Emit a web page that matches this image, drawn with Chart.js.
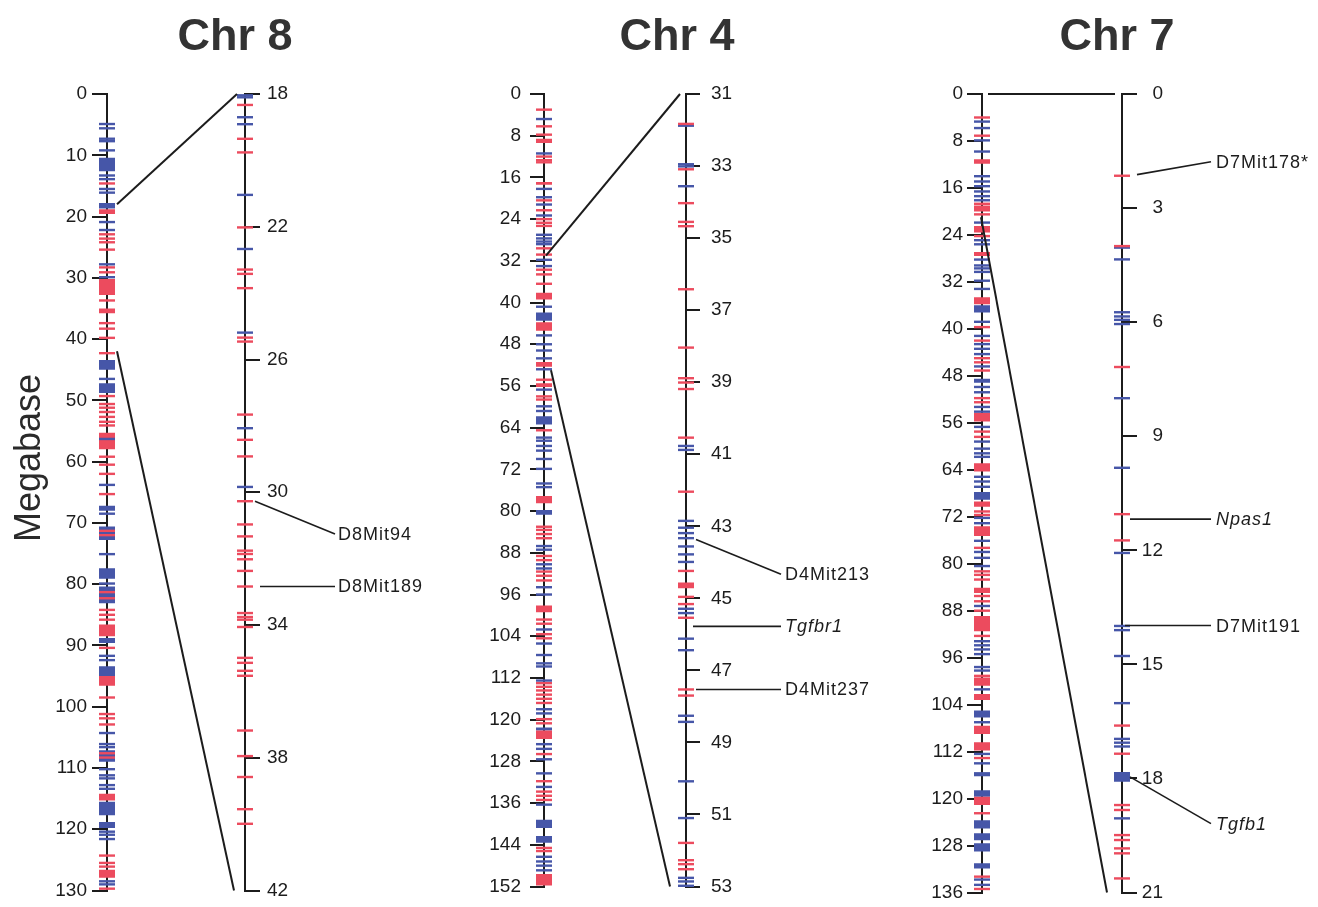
<!DOCTYPE html>
<html><head><meta charset="utf-8">
<script src="https://cdn.jsdelivr.net/npm/chart.js@4.4.1/dist/chart.umd.min.js"></script>
<style>
html,body{margin:0;padding:0;background:#fff;}
#wrap{position:relative;width:1318px;height:907px;overflow:hidden;background:#fff;}
canvas{position:absolute;left:0;top:0;}
</style></head><body>
<div id="wrap">
<canvas id="c8" width="1318" height="907"></canvas>
<canvas id="c4" width="1318" height="907"></canvas>
<canvas id="c7" width="1318" height="907"></canvas>
</div>
<script>
// ---------- titles ----------
const panelTitles = ['Chr 8', 'Chr 4', 'Chr 7'];
const yTitle = 'Megabase';

// ---------- tick labels ----------
const chr8MainTicks = [0,10,20,30,40,50,60,70,80,90,100,110,120,130];
const chr8ZoomTicks = [18,22,26,30,34,38,42];
const chr4MainTicks = [0,8,16,24,32,40,48,56,64,72,80,88,96,104,112,120,128,136,144,152];
const chr4ZoomTicks = [31,33,35,37,39,41,43,45,47,49,51,53];
const chr7MainTicks = [0,8,16,24,32,40,48,56,64,72,80,88,96,104,112,120,128,136];
const chr7ZoomTicks = [0,3,6,9,12,15,18,21];

// ---------- Chr 8 ----------
const chr8MainRed = [14.6,22.9,23.6,24.2,25.4,28.3,29.1,33.7,37.4,38.3,39.8,42.3,49.3,50.6,51.2,51.9,52.7,53.5,54.1,59.2,60.5,62.0,65.3,71.3,72.0,81.3,82.3,84.2,85.0,85.8,90.4,98.5,101.2,101.9,102.9,107.6,108.3,124.3,125.5,126.1,129.7];
const chr8MainBlue = [4.9,5.6,7.3,7.7,9.2,13.3,13.9,15.5,16.1,20.9,22.2,27.8,29.9,46.5,56.3,63.8,68.5,75.1,79.9,91.7,92.4,104.3,106.1,106.6,110.2,111.2,111.7,112.8,113.4,120.4,120.9,121.6,128.5,129.0];
const chr8MainRedBlocks = [[18.8,19.6],[30.2,32.8],[35.0,35.8],[55.3,58.0],[86.6,88.5],[95.0,96.6],[114.2,115.3],[126.6,127.9]];
const chr8MainBlueBlocks = [[10.4,12.6],[17.8,18.7],[43.4,45.0],[47.2,48.8],[67.2,68.0],[70.6,72.8],[77.4,79.1],[80.4,83.1],[88.8,89.6],[93.4,95.0],[107.1,109.0],[115.5,117.7],[118.8,119.8]];
const chr8ZoomRed = [18.33,19.35,19.76,22.02,23.29,23.42,23.85,25.34,25.46,27.66,28.42,28.92,30.27,30.97,31.33,31.76,31.86,32.02,32.37,32.84,33.64,33.76,33.84,34.06,34.99,35.14,35.38,35.53,37.18,37.95,38.58,39.55,39.99];
const chr8ZoomBlue = [18.04,18.1,18.70,18.91,21.04,22.67,25.19,28.07,29.84];
const chr8Links = [[18,18],[42,42]];
const chr8Labels = ['D8Mit94','D8Mit189'];
const chr8LabelMarkerAt = [30.27,32.84];
const chr8LabelTextAt = [31.26,32.84];

// ---------- Chr 4 ----------
const chr4MainRed = [3.0,6.2,7.8,12.0,12.7,13.1,20.4,22.3,24.0,24.7,25.3,29.6,30.8,33.7,34.6,36.4,54.8,58.0,58.6,64.5,83.0,83.6,84.4,85.2,88.6,89.4,91.6,92.4,93.3,100.8,101.6,103.6,104.4,113.0,113.7,114.4,115.2,116.0,116.8,119.9,120.7,126.6,131.8,133.8,134.6,135.4,144.6,145.2];
const chr4MainBlue = [4.8,11.4,18.2,19.8,21.2,23.3,27.0,27.7,28.3,28.8,31.8,33.0,40.8,46.3,48.0,49.2,50.7,52.8,56.7,59.9,60.8,65.9,66.5,67.5,68.4,70.0,71.9,74.7,75.4,86.7,87.4,90.2,91.0,94.6,96.0,102.7,105.4,107.6,109.2,109.8,112.5,118.0,118.8,124.7,125.6,127.6,130.3,132.9,136.3,146.3,147.2,148.0,148.9];
const chr4MainRedBlocks = [[8.6,9.4],[16.9,17.4],[38.1,39.4],[43.8,45.4],[51.4,52.3],[55.5,56.2],[77.1,78.5],[98.1,99.4],[122.1,123.7],[149.6,151.8]];
const chr4MainBlueBlocks = [[41.9,43.5],[61.8,63.4],[79.8,80.7],[121.5,122.1],[139.2,140.8],[142.3,143.6]];
const chr4ZoomRed = [31.83,33.09,34.03,34.55,34.67,36.42,38.04,38.89,39.01,39.19,40.54,42.04,44.24,44.96,45.16,45.54,47.53,47.70,51.79,52.27,52.38,52.52];
const chr4ZoomBlue = [31.88,32.95,33.01,33.56,40.77,40.88,42.85,43.04,43.19,43.33,43.56,43.78,43.99,45.29,45.41,46.12,46.44,48.26,48.43,50.08,51.10,52.76,52.86,52.98];
const chr4ZoomRedBlocks = [[44.56,44.72]];
const chr4Links = [[31,31],[53,53]];
const chr4Labels = ['D4Mit213','Tgfbr1','D4Mit237'];
const chr4LabelMarkerAt = [43.37,45.78,47.53];
const chr4LabelTextAt = [44.33,45.78,47.53];

// ---------- Chr 7 ----------
const chr7MainRed = [4.0,7.1,18.7,20.5,24.2,39.7,42.0,45.0,45.7,47.1,51.8,52.5,57.5,58.4,71.1,71.7,77.3,81.3,81.9,82.7,85.5,86.4,88.0,92.3,99.1,113.1,122.5,133.3,135.4];
const chr7MainBlue = [4.7,5.8,7.9,9.8,14.0,14.9,15.7,16.6,17.4,18.1,21.9,24.9,25.6,28.2,29.2,29.7,30.3,31.8,33.2,38.8,41.2,42.6,43.4,44.3,46.4,49.9,50.8,53.3,54.1,56.7,59.2,60.4,61.2,61.8,65.2,66.0,66.9,72.2,73.1,76.1,78.0,79.0,80.4,87.2,93.2,93.9,94.6,95.4,97.6,98.2,101.4,107.0,112.4,114.0,115.7,116.0,133.8,134.7];
const chr7MainRedBlocks = [[11.1,11.9],[19.0,20.0],[22.5,23.6],[26.9,27.6],[34.6,35.8],[54.3,55.8],[62.9,64.3],[69.4,70.3],[73.6,75.3],[84.1,85.0],[88.9,91.5],[99.4,100.8],[102.2,103.2],[107.6,109.0],[110.4,111.8],[119.7,121.1]];
const chr7MainBlueBlocks = [[36.0,37.2],[48.5,49.2],[67.8,69.1],[105.0,106.2],[118.6,119.7],[123.7,125.1],[125.9,127.1],[127.6,129.0],[131.0,131.9]];
const chr7ZoomRed = [2.15,4.0,7.18,11.05,11.74,16.61,17.35,18.7,18.83,19.49,19.62,19.84,19.97,20.63];
const chr7ZoomBlue = [4.04,4.35,5.74,5.85,5.94,6.05,8.0,9.83,12.07,13.99,14.1,14.78,16.02,16.96,17.06,17.16,19.05];
const chr7ZoomBlueBlocks = [[17.83,18.09]];
const chr7Links = [[0,0],[21,21]];
const chr7Labels = ['D7Mit178*','Npas1','D7Mit191','Tgfb1'];
const chr7LabelMarkerAt = [2.12,11.18,13.98,17.96];
const chr7LabelTextAt = [1.78,11.18,13.98,19.19];

// ---------- styling / drawing ----------
const FONT = "'Liberation Sans', Arial, Helvetica, sans-serif";
const RED = '#ec4b5e';
const BLUE = '#4656a8';
const INK = '#1c1c1c';

const panelPlugin = {
  id: 'panel',
  afterDatasetsDraw(chart, args, o) {
    const ctx = chart.ctx;
    const yM = chart.scales.yMain, yZ = chart.scales.yZoom;
    const xM = chart.chartArea.left, xZ = chart.chartArea.right;
    ctx.save();
    ctx.strokeStyle = INK; ctx.lineWidth = 2; ctx.lineCap = 'butt';
    o.links.forEach((l, i) => {
      const off = o.linkOffsets[i];
      ctx.beginPath();
      ctx.moveTo(xM + off[0], yM.getPixelForValue(l[0]));
      ctx.lineTo(xZ + off[1], yZ.getPixelForValue(l[1]));
      ctx.stroke();
    });
    ctx.lineWidth = 1.6;
    o.labels.forEach((t, i) => {
      const y1 = yZ.getPixelForValue(o.markerAt[i]);
      const y2 = yZ.getPixelForValue(o.textAt[i]);
      ctx.beginPath();
      ctx.moveTo(xZ + o.startDx[i], y1);
      ctx.lineTo(xZ + o.endDx, y2);
      ctx.stroke();
      ctx.font = (o.italic[i] ? 'italic ' : '') + '18px ' + FONT;
      if ('letterSpacing' in ctx) ctx.letterSpacing = '1px';
      ctx.fillStyle = INK; ctx.textAlign = 'left'; ctx.textBaseline = 'middle';
      ctx.fillText(t, xZ + o.textDx, y2 + 1);
    });
    if ('letterSpacing' in ctx) ctx.letterSpacing = '0px';
    ctx.font = 'bold 45px ' + FONT;
    ctx.fillStyle = '#333333'; ctx.textAlign = 'center'; ctx.textBaseline = 'alphabetic';
    ctx.fillText(o.title, xZ + o.titleDx, 50);
    if (o.yTitle) {
      ctx.translate(30, 458);
      ctx.rotate(-Math.PI / 2);
      ctx.font = '36px ' + FONT;
      ctx.fillStyle = '#2a2a2a'; ctx.textAlign = 'center'; ctx.textBaseline = 'middle';
      ctx.fillText(o.yTitle, 0, 0);
    }
    ctx.restore();
  }
};

function markers(vals, color, axis, x) {
  return { type: 'scatter', data: vals.map(v => ({x: x, y: v})), xAxisID: 'x', yAxisID: axis,
    pointStyle: 'line', pointRadius: 8, pointHoverRadius: 8, borderWidth: 2.4, pointBorderWidth: 2.4,
    borderColor: color, backgroundColor: color, showLine: false, clip: false, order: 0 };
}
function blocks(ranges, color, axis, x) {
  const data = [];
  ranges.forEach(r => { data.push({x: x, y: r[0]}, {x: x, y: r[1]}, {x: x, y: null}); });
  return { type: 'line', data: data, xAxisID: 'x', yAxisID: axis, borderColor: color, backgroundColor: color,
    borderWidth: 16, borderCapStyle: 'butt', pointRadius: 0, pointHoverRadius: 0, spanGaps: false,
    fill: false, tension: 0, clip: false, order: 1 };
}
function axis(pos, min, max, ticksArr, tl, pad, align, w) {
  return {
    type: 'linear', position: pos, reverse: true, min: min, max: max,
    afterBuildTicks: s => { s.ticks = ticksArr.map(v => ({value: v})); },
    afterFit: s => { s.width = w; },
    grid: { display: true, drawOnChartArea: false, drawTicks: true, tickLength: tl, color: INK, lineWidth: 2 },
    border: { display: true, color: INK, width: 2 },
    ticks: { color: INK, padding: pad, crossAlign: align, autoSkip: false, maxRotation: 0,
      font: { family: FONT, size: 19, lineHeight: 1 } }
  };
}
function panel(id, p) {
  const ds = [
    markers(p.mainRed, RED, 'yMain', 0), markers(p.mainBlue, BLUE, 'yMain', 0),
    markers(p.zoomRed, RED, 'yZoom', 1), markers(p.zoomBlue, BLUE, 'yZoom', 1),
    blocks(p.mainRedBlocks, RED, 'yMain', 0), blocks(p.mainBlueBlocks, BLUE, 'yMain', 0),
    blocks(p.zoomRedBlocks || [], RED, 'yZoom', 1), blocks(p.zoomBlueBlocks || [], BLUE, 'yZoom', 1)
  ];
  const zw = p.zoomW || 100;
  return new Chart(document.getElementById(id), {
    type: 'scatter',
    data: { datasets: ds },
    options: {
      responsive: false, animation: false, events: [],
      layout: { padding: { left: p.mainX - 100, right: 1318 - p.zoomX - zw, top: 94, bottom: 11 } },
      plugins: { legend: { display: false }, tooltip: { enabled: false }, panel: p.panel },
      scales: {
        x: { type: 'linear', min: 0, max: 1, display: false },
        yMain: axis('left', p.mainTicks[0], p.mainTicks[p.mainTicks.length - 1], p.mainTicks, p.mainTl, p.mainPad, 'near', 100),
        yZoom: axis('right', p.zoomTicks[0], p.zoomTicks[p.zoomTicks.length - 1], p.zoomTicks, p.zoomTl, p.zoomPad, p.zoomAlign, zw)
      }
    },
    plugins: [panelPlugin]
  });
}

panel('c8', {
  mainX: 107, zoomX: 245, mainTicks: chr8MainTicks, zoomTicks: chr8ZoomTicks,
  mainTl: 15, mainPad: 5, zoomTl: 15, zoomPad: 7, zoomAlign: 'near',
  mainRed: chr8MainRed, mainBlue: chr8MainBlue, mainRedBlocks: chr8MainRedBlocks, mainBlueBlocks: chr8MainBlueBlocks,
  zoomRed: chr8ZoomRed, zoomBlue: chr8ZoomBlue,
  panel: { title: panelTitles[0], titleDx: -10, yTitle: yTitle, links: chr8Links, linkOffsets: [[10,-8],[10,-11]],
    labels: chr8Labels, markerAt: chr8LabelMarkerAt, textAt: chr8LabelTextAt, italic: [false,false],
    startDx: [10,15], endDx: 90, textDx: 93 }
});
panel('c4', {
  mainX: 544, zoomX: 686, mainTicks: chr4MainTicks, zoomTicks: chr4ZoomTicks,
  mainTl: 14, mainPad: 9, zoomTl: 14, zoomPad: 11, zoomAlign: 'near',
  mainRed: chr4MainRed, mainBlue: chr4MainBlue, mainRedBlocks: chr4MainRedBlocks, mainBlueBlocks: chr4MainBlueBlocks,
  zoomRed: chr4ZoomRed, zoomBlue: chr4ZoomBlue, zoomRedBlocks: chr4ZoomRedBlocks,
  panel: { title: panelTitles[1], titleDx: -9, yTitle: null, links: chr4Links, linkOffsets: [[2,-6],[7,-16]],
    labels: chr4Labels, markerAt: chr4LabelMarkerAt, textAt: chr4LabelTextAt, italic: [false,true,false],
    startDx: [10,7,10], endDx: 95, textDx: 99 }
});
panel('c7', {
  mainX: 982, zoomX: 1122, zoomW: 41, mainTicks: chr7MainTicks, zoomTicks: chr7ZoomTicks,
  mainTl: 15, mainPad: 4, zoomTl: 15, zoomPad: 5, zoomAlign: 'far',
  mainRed: chr7MainRed, mainBlue: chr7MainBlue, mainRedBlocks: chr7MainRedBlocks, mainBlueBlocks: chr7MainBlueBlocks,
  zoomRed: chr7ZoomRed, zoomBlue: chr7ZoomBlue, zoomBlueBlocks: chr7ZoomBlueBlocks,
  panel: { title: panelTitles[2], titleDx: -5, yTitle: null, links: chr7Links, linkOffsets: [[6,-7],[-1,-15]],
    labels: chr7Labels, markerAt: chr7LabelMarkerAt, textAt: chr7LabelTextAt, italic: [false,true,false,true],
    startDx: [15,8,3,8], endDx: 89, textDx: 94 }
});
</script>
</body></html>
